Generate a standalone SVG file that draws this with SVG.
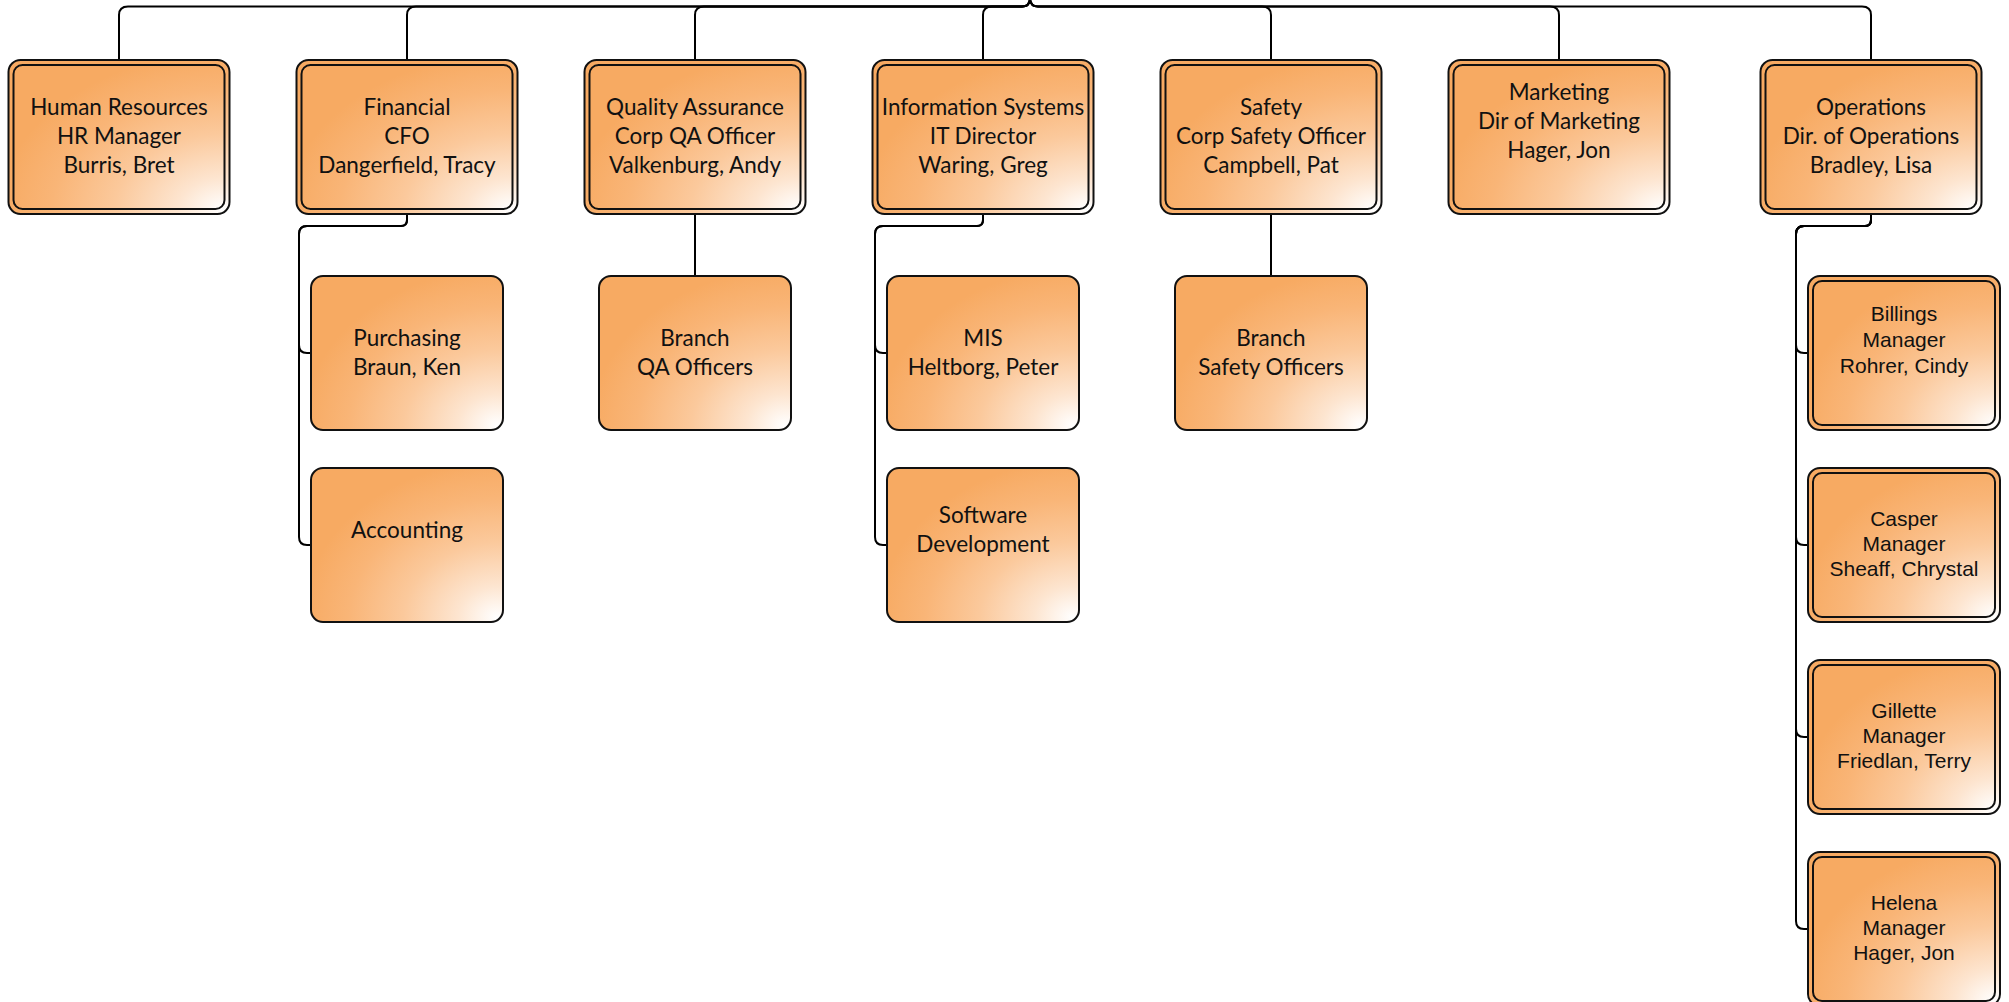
<svg xmlns="http://www.w3.org/2000/svg" width="2009" height="1002" viewBox="0 0 2009 1002">
  <defs>
    <!-- orange fill that fades to white toward the lower right corner -->
    <radialGradient id="orangeFade" cx="1" cy="1" r="1.05" fx="0.97" fy="0.97">
      <stop offset="0" stop-color="#ffffff"/>
      <stop offset="0.2" stop-color="#fde5d0"/>
      <stop offset="0.48" stop-color="#fbc99c"/>
      <stop offset="0.76" stop-color="#f9b577"/>
      <stop offset="1" stop-color="#f7aa62"/>
    </radialGradient>
  </defs>
  <style>
    .outer { fill: url(#orangeFade); stroke: #111; stroke-width: 2; }
    .inner { fill: none; stroke: #111; stroke-width: 2; }
    .single { fill: url(#orangeFade); stroke: #111; stroke-width: 2; }
    .lbl { font-family: Lato, "Liberation Sans", sans-serif; font-size: 22.5px; fill: #111; text-anchor: middle; }
    .lbl2 { font-family: "Liberation Sans", Arial, sans-serif; font-size: 21px; fill: #111; text-anchor: middle; }
    .wire { fill: none; stroke: #000; stroke-width: 2; }
  </style>

  <rect width="2009" height="1002" fill="#ffffff"/>

  <!-- connectors -->
  <g id="connectors">
    <!-- root to department heads -->
    <path class="wire" d="M1030,-2 Q1030,6.5 1022,6.5 L128,6.5 Q119,6.5 119,15 L119,60"/>
    <path class="wire" d="M1030,-2 Q1030,6.5 1022,6.5 L416,6.5 Q407,6.5 407,15 L407,60"/>
    <path class="wire" d="M1030,-2 Q1030,6.5 1022,6.5 L704,6.5 Q695,6.5 695,15 L695,60"/>
    <path class="wire" d="M1030,-2 Q1030,6.5 1022,6.5 L992,6.5 Q983,6.5 983,15 L983,60"/>
    <path class="wire" d="M1030,-2 Q1030,6.5 1038,6.5 L1262,6.5 Q1271,6.5 1271,15 L1271,60"/>
    <path class="wire" d="M1030,-2 Q1030,6.5 1038,6.5 L1550,6.5 Q1559,6.5 1559,15 L1559,60"/>
    <path class="wire" d="M1030,-2 Q1030,6.5 1038,6.5 L1862,6.5 Q1871,6.5 1871,15 L1871,60"/>
    <!-- Financial -->
    <path class="wire" d="M407,214 L407,220 Q407,226 401,226 L307,226 Q299,226 299,234 L299,345 Q299,353 307,353 L311,353"/>
    <path class="wire" d="M407,214 L407,220 Q407,226 401,226 L307,226 Q299,226 299,234 L299,537 Q299,545 307,545 L311,545"/>
    <!-- Quality Assurance -->
    <path class="wire" d="M695,214 L695,276"/>
    <!-- Information Systems -->
    <path class="wire" d="M983,214 L983,220 Q983,226 977,226 L883,226 Q875,226 875,234 L875,345 Q875,353 883,353 L887,353"/>
    <path class="wire" d="M983,214 L983,220 Q983,226 977,226 L883,226 Q875,226 875,234 L875,537 Q875,545 883,545 L887,545"/>
    <!-- Safety -->
    <path class="wire" d="M1271,214 L1271,276"/>
    <!-- Operations -->
    <path class="wire" d="M1871,214 L1871,220 Q1871,226 1865,226 L1804,226 Q1796,226 1796,234 L1796,345 Q1796,353 1804,353 L1808,353"/>
    <path class="wire" d="M1871,214 L1871,220 Q1871,226 1865,226 L1804,226 Q1796,226 1796,234 L1796,537 Q1796,545 1804,545 L1808,545"/>
    <path class="wire" d="M1871,214 L1871,220 Q1871,226 1865,226 L1804,226 Q1796,226 1796,234 L1796,729 Q1796,737 1804,737 L1808,737"/>
    <path class="wire" d="M1871,214 L1871,220 Q1871,226 1865,226 L1804,226 Q1796,226 1796,234 L1796,921 Q1796,929 1804,929 L1808,929"/>
  </g>

  <!-- department heads -->
  <g id="hr">
    <rect class="outer" x="8.5" y="60" width="221" height="154" rx="12"/>
    <rect class="inner" x="13.5" y="65" width="211" height="144" rx="9"/>
    <text class="lbl"><tspan x="119" y="115">Human Resources</tspan><tspan x="119" y="144">HR Manager</tspan><tspan x="119" y="173">Burris, Bret</tspan></text>
  </g>
  <g id="financial">
    <rect class="outer" x="296.5" y="60" width="221" height="154" rx="12"/>
    <rect class="inner" x="301.5" y="65" width="211" height="144" rx="9"/>
    <text class="lbl"><tspan x="407" y="115">Financial</tspan><tspan x="407" y="144">CFO</tspan><tspan x="407" y="173">Dangerfield, Tracy</tspan></text>
  </g>
  <g id="quality-assurance">
    <rect class="outer" x="584.5" y="60" width="221" height="154" rx="12"/>
    <rect class="inner" x="589.5" y="65" width="211" height="144" rx="9"/>
    <text class="lbl"><tspan x="695" y="115">Quality Assurance</tspan><tspan x="695" y="144">Corp QA Officer</tspan><tspan x="695" y="173">Valkenburg, Andy</tspan></text>
  </g>
  <g id="information-systems">
    <rect class="outer" x="872.5" y="60" width="221" height="154" rx="12"/>
    <rect class="inner" x="877.5" y="65" width="211" height="144" rx="9"/>
    <text class="lbl"><tspan x="983" y="115">Information Systems</tspan><tspan x="983" y="144">IT Director</tspan><tspan x="983" y="173">Waring, Greg</tspan></text>
  </g>
  <g id="safety">
    <rect class="outer" x="1160.5" y="60" width="221" height="154" rx="12"/>
    <rect class="inner" x="1165.5" y="65" width="211" height="144" rx="9"/>
    <text class="lbl"><tspan x="1271" y="115">Safety</tspan><tspan x="1271" y="144">Corp Safety Officer</tspan><tspan x="1271" y="173">Campbell, Pat</tspan></text>
  </g>
  <g id="marketing">
    <rect class="outer" x="1448.5" y="60" width="221" height="154" rx="12"/>
    <rect class="inner" x="1453.5" y="65" width="211" height="144" rx="9"/>
    <text class="lbl"><tspan x="1559" y="100">Marketing</tspan><tspan x="1559" y="129">Dir of Marketing</tspan><tspan x="1559" y="158">Hager, Jon</tspan></text>
  </g>
  <g id="operations">
    <rect class="outer" x="1760.5" y="60" width="221" height="154" rx="12"/>
    <rect class="inner" x="1765.5" y="65" width="211" height="144" rx="9"/>
    <text class="lbl"><tspan x="1871" y="115">Operations</tspan><tspan x="1871" y="144">Dir. of Operations</tspan><tspan x="1871" y="173">Bradley, Lisa</tspan></text>
  </g>

  <!-- Financial staff -->
  <g id="purchasing">
    <rect class="single" x="311" y="276" width="192" height="154" rx="12"/>
    <text class="lbl"><tspan x="407" y="346">Purchasing</tspan><tspan x="407" y="375">Braun, Ken</tspan></text>
  </g>
  <g id="accounting">
    <rect class="single" x="311" y="468" width="192" height="154" rx="12"/>
    <text class="lbl" x="407" y="538">Accounting</text>
  </g>

  <!-- QA staff -->
  <g id="branch-qa">
    <rect class="single" x="599" y="276" width="192" height="154" rx="12"/>
    <text class="lbl"><tspan x="695" y="346">Branch</tspan><tspan x="695" y="375">QA Officers</tspan></text>
  </g>

  <!-- IS staff -->
  <g id="mis">
    <rect class="single" x="887" y="276" width="192" height="154" rx="12"/>
    <text class="lbl"><tspan x="983" y="346">MIS</tspan><tspan x="983" y="375">Heltborg, Peter</tspan></text>
  </g>
  <g id="software-development">
    <rect class="single" x="887" y="468" width="192" height="154" rx="12"/>
    <text class="lbl"><tspan x="983" y="523">Software</tspan><tspan x="983" y="552">Development</tspan></text>
  </g>

  <!-- Safety staff -->
  <g id="branch-safety">
    <rect class="single" x="1175" y="276" width="192" height="154" rx="12"/>
    <text class="lbl"><tspan x="1271" y="346">Branch</tspan><tspan x="1271" y="375">Safety Officers</tspan></text>
  </g>

  <!-- Operations branches -->
  <g id="billings">
    <rect class="outer" x="1808" y="276" width="192" height="154" rx="12"/>
    <rect class="inner" x="1813" y="281" width="182" height="144" rx="9"/>
    <text class="lbl2"><tspan x="1904" y="321">Billings</tspan><tspan x="1904" y="347">Manager</tspan><tspan x="1904" y="373">Rohrer, Cindy</tspan></text>
  </g>
  <g id="casper">
    <rect class="outer" x="1808" y="468" width="192" height="154" rx="12"/>
    <rect class="inner" x="1813" y="473" width="182" height="144" rx="9"/>
    <text class="lbl2"><tspan x="1904" y="526">Casper</tspan><tspan x="1904" y="551">Manager</tspan><tspan x="1904" y="576">Sheaff, Chrystal</tspan></text>
  </g>
  <g id="gillette">
    <rect class="outer" x="1808" y="660" width="192" height="154" rx="12"/>
    <rect class="inner" x="1813" y="665" width="182" height="144" rx="9"/>
    <text class="lbl2"><tspan x="1904" y="718">Gillette</tspan><tspan x="1904" y="743">Manager</tspan><tspan x="1904" y="768">Friedlan, Terry</tspan></text>
  </g>
  <g id="helena">
    <rect class="outer" x="1808" y="852" width="192" height="154" rx="12"/>
    <rect class="inner" x="1813" y="857" width="182" height="144" rx="9"/>
    <text class="lbl2"><tspan x="1904" y="910">Helena</tspan><tspan x="1904" y="935">Manager</tspan><tspan x="1904" y="960">Hager, Jon</tspan></text>
  </g>
</svg>
